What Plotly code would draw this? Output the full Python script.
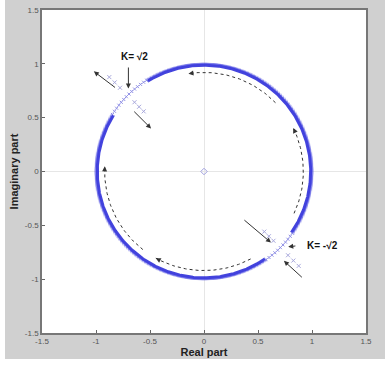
import numpy as np
import plotly.graph_objects as go

# ---- data ----
circle_radius = 1.0
band_segments_deg = [(-35, 122), (148, 305)]      # dense part of the locus
sparse_segments_deg = [(122, 148), (-55, -35)]    # sparse part near the K points
sparse_step_deg = 2.0
band_step_deg = 0.5

# break-away points
k_points_deg = [135, -45]
k_labels = ["K= \u221a2", "K= -\u221a2"]
radial_inner_r = [0.91, 0.85, 0.79]
radial_outer_r = [1.10, 1.17, 1.24]

# direction arcs inside the circle (start angle, end angle), in degrees
arc_radius = 0.92
arcs_deg = [(44, 99), (-25, 26), (-62, -119), (-128, -183)]

# straight arrows: (x_start, y_start, x_end, y_end)
straight_arrows = [
    (-0.81, 0.77, -1.02, 0.93),
    (-0.66, 0.57, -0.49, 0.40),
    (-0.70, 0.98, -0.70, 0.77),
    (0.36, -0.44, 0.62, -0.66),
    (0.92, -0.995, 0.74, -0.83),
    (0.86, -0.69, 0.78, -0.70),
]
label_pos = [(-0.64, 1.07), (1.10, -0.69)]

x_ticks = [-1.5, -1, -0.5, 0, 0.5, 1, 1.5]
y_ticks = [-1.5, -1, -0.5, 0, 0.5, 1, 1.5]
x_tick_labels = ["-1.5", "-1", "-0.5", "0", "0.5", "1", "1.5"]
y_tick_labels = ["-1.5", "-1", "-0.5", "0", "0.5", "1", "1.5"]

BLUE = "#2424d8"
fig = go.Figure()

for a0, a1 in band_segments_deg:
    th = np.deg2rad(np.arange(a0, a1 + band_step_deg, band_step_deg))
    fig.add_trace(go.Scatter(x=circle_radius * np.cos(th) * 0.988, y=circle_radius * np.sin(th) * 0.988,
                             mode="lines", line=dict(color=BLUE, width=3),
                             opacity=0.85, hoverinfo="skip", showlegend=False))
    fig.add_trace(go.Scatter(x=circle_radius * np.cos(th), y=circle_radius * np.sin(th),
                             mode="markers", marker=dict(symbol="x-thin", size=2, color="#4040e0",
                                                          line=dict(width=1, color="#4040e0")),
                             opacity=0.7, hoverinfo="skip", showlegend=False))

for a0, a1 in sparse_segments_deg:
    th = np.deg2rad(np.arange(a0, a1 + 0.01, sparse_step_deg))
    fig.add_trace(go.Scatter(x=circle_radius * np.cos(th), y=circle_radius * np.sin(th),
                             mode="markers", marker=dict(symbol="x-thin", size=3, color="#9090e6",
                                                          line=dict(width=1, color="#9090e6")),
                             hoverinfo="skip", showlegend=False))

for kd in k_points_deg:
    t = np.deg2rad(kd)
    rr = np.array(radial_inner_r + radial_outer_r)
    fig.add_trace(go.Scatter(x=rr * np.cos(t), y=rr * np.sin(t), mode="markers",
                             marker=dict(symbol="x-thin", size=4, color="#a8a8dc",
                                         line=dict(width=1, color="#a8a8dc")),
                             hoverinfo="skip", showlegend=False))

# origin marker
fig.add_trace(go.Scatter(x=[0], y=[0], mode="markers",
                         marker=dict(symbol="diamond-open", size=5, color="#a0a0e0"),
                         hoverinfo="skip", showlegend=False))

annotations = []
for a0, a1 in arcs_deg:
    th = np.deg2rad(np.linspace(a0, a1, 60))
    xs, ys = arc_radius * np.cos(th), arc_radius * np.sin(th)
    fig.add_trace(go.Scatter(x=xs, y=ys, mode="lines",
                             line=dict(color="#333333", width=1, dash="dot"),
                             hoverinfo="skip", showlegend=False))
    annotations.append(dict(x=xs[-1], y=ys[-1], ax=xs[-4], ay=ys[-4], xref="x", yref="y",
                            axref="x", ayref="y", showarrow=True, arrowhead=2,
                            arrowsize=1, arrowwidth=1, arrowcolor="#333333", text=""))

for xs, ys, xe, ye in straight_arrows:
    annotations.append(dict(x=xe, y=ye, ax=xs, ay=ys, xref="x", yref="y",
                            axref="x", ayref="y", showarrow=True, arrowhead=2,
                            arrowsize=1, arrowwidth=1, arrowcolor="#333333", text=""))

for (lx, ly), lt in zip(label_pos, k_labels):
    annotations.append(dict(x=lx, y=ly, xref="x", yref="y", text="<b>" + lt + "</b>",
                            showarrow=False, font=dict(size=10, color="#111111",
                                                       family="Liberation Sans, Arial")))

W, H, L, R, T, B = 385, 367, 42, 19, 10, 34
pw, ph = W - L - R, H - T - B
def px(v): return (v - L) / pw
def py(v): return 1 - (v - T) / ph
shapes = [
    dict(type="rect", xref="paper", yref="paper", x0=px(0), x1=px(5), y0=py(H), y1=py(0),
         fillcolor="white", line=dict(width=0), layer="below"),
    dict(type="rect", xref="paper", yref="paper", x0=px(0), x1=px(W), y0=py(H), y1=py(359),
         fillcolor="white", line=dict(width=0), layer="below"),
]

axis_common = dict(range=[-1.5, 1.5], showgrid=False, zeroline=True, zerolinecolor="#e6e6e6",
                   zerolinewidth=1, ticks="inside", ticklen=3, tickcolor="#666666",
                   showline=True, linecolor="#777777", linewidth=1.5, mirror=True,
                   tickfont=dict(size=8, color="#555555", family="Liberation Sans, Arial"),
                   ticklabeloverflow="allow", fixedrange=True, automargin=False)

fig.update_layout(
    width=W, height=H, margin=dict(l=L, r=R, t=T, b=B, autoexpand=False),
    paper_bgcolor="#d0d0d0", plot_bgcolor="white",
    xaxis=dict(axis_common, tickvals=x_ticks, ticktext=x_tick_labels,
               title=dict(text="<b>Real part</b>", standoff=2,
                          font=dict(size=11, color="#222222", family="Liberation Sans, Arial"))),
    yaxis=dict(axis_common, tickvals=y_ticks, ticktext=y_tick_labels,
               title=dict(text="<b>Imaginary part</b>", standoff=4,
                          font=dict(size=11, color="#222222", family="Liberation Sans, Arial"))),
    annotations=annotations, shapes=shapes, showlegend=False,
)

fig.write_html("out.html", config={"displayModeBar": False},
               post_script="document.body.style.margin='0';document.body.style.overflow='hidden';")
